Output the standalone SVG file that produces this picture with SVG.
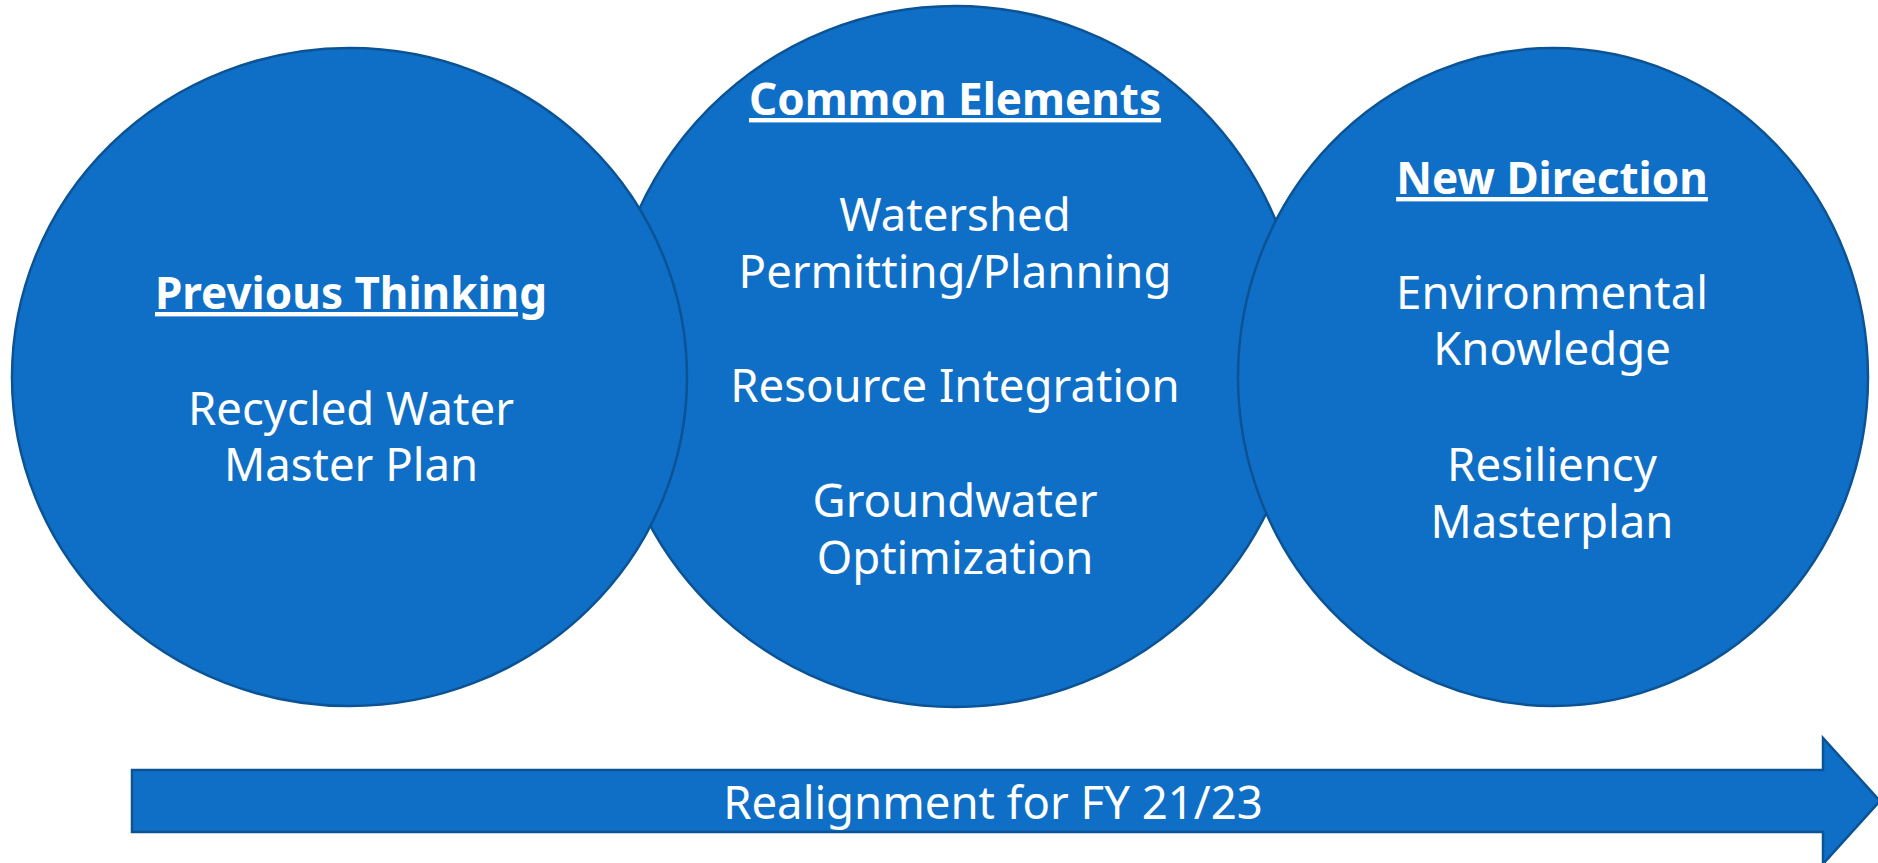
<svg xmlns="http://www.w3.org/2000/svg" width="1878" height="863" viewBox="0 0 1878 863">
  <style>
    .shape { fill: #0F6FC6; stroke: #0B5394; stroke-width: 2.5; }
    .t { font-family: "Noto Sans", "Open Sans", sans-serif; font-size: 45.5px; fill: #FFFFFF; text-anchor: middle; }
    .h { font-weight: bold; font-size: 44px; text-decoration: underline; }
  </style>
  <rect x="0" y="0" width="1878" height="863" fill="#FFFFFF"/>
  <g id="common-elements">
    <ellipse class="shape" cx="955" cy="356.5" rx="348" ry="350.5"/>
    <text class="t h" x="955" y="115">Common Elements</text>
    <text class="t" x="955" y="231">Watershed</text>
    <text class="t" x="955" y="288">Permitting/Planning</text>
    <text class="t" x="955" y="402">Resource Integration</text>
    <text class="t" x="955" y="517">Groundwater</text>
    <text class="t" x="955" y="574">Optimization</text>
  </g>
  <g id="previous-thinking">
    <ellipse class="shape" cx="349.5" cy="377" rx="337.5" ry="329"/>
    <text class="t h" x="351" y="309">Previous Thinking</text>
    <text class="t" x="351" y="425">Recycled Water</text>
    <text class="t" x="351" y="481">Master Plan</text>
  </g>
  <g id="new-direction">
    <ellipse class="shape" cx="1553" cy="377" rx="315" ry="329"/>
    <text class="t h" x="1552" y="194">New Direction</text>
    <text class="t" x="1552" y="309">Environmental</text>
    <text class="t" x="1552" y="365">Knowledge</text>
    <text class="t" x="1552" y="481">Resiliency</text>
    <text class="t" x="1552" y="538">Masterplan</text>
  </g>
  <g id="connectors">
    <g id="timeline-arrow">
      <path class="shape" d="M132,770 L1823,770 L1823,738 L1880,801 L1823,864 L1823,832 L132,832 Z"/>
      <text class="t" x="993" y="819">Realignment for FY 21/23</text>
    </g>
  </g>
</svg>
